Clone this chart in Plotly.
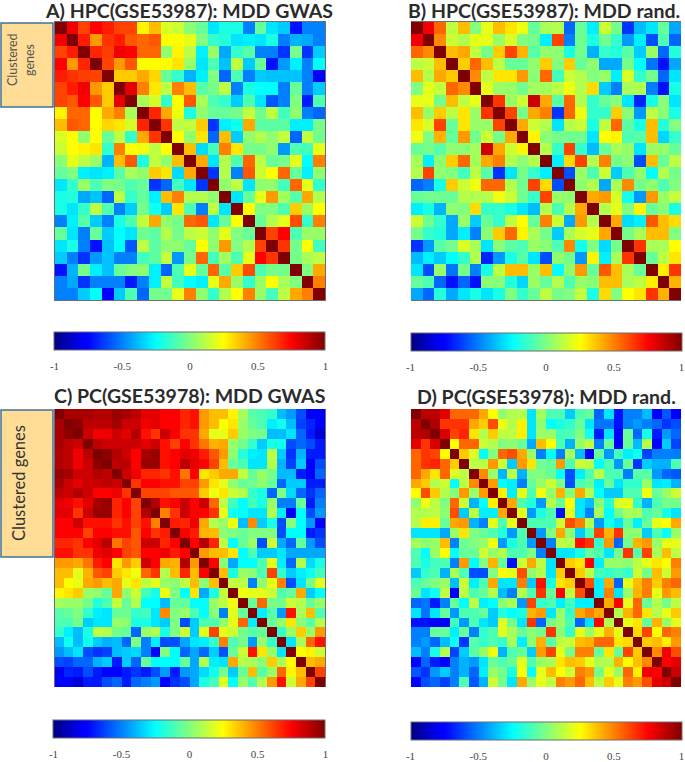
import numpy as np
import plotly.graph_objects as go

W, H = 685, 762

titles = ["A) HPC(GSE53987): MDD GWAS", "B) HPC(GSE53987): MDD rand.",
          "C) PC(GSE53978): MDD GWAS", "D) PC(GSE53978): MDD rand."]
bar_ticks = [-1, -0.5, 0, 0.5, 1]
bar_labels = ["-1", "-0.5", "0", "0.5", "1"]

# upper triangles, each row starts at the diagonal
upper_a = [
    [1,.78,.62,.75,.7,.62,.62,.27,.38,.18,.15,.02,-.05,-.3,-.2,-.2,-.5,-.05,-.3,-.35,-.72,-.5,-.5],
    [1,.7,.45,.65,.7,.58,.55,.58,.25,.25,.2,0,-.15,-.18,-.3,-.28,-.3,-.2,-.5,-.4,-.42,-.5],
    [1,.68,.63,.78,.75,.55,.55,.03,.27,.12,-.28,.05,-.42,-.15,-.08,-.5,-.5,-.65,-.02,-.65,-.35],
    [1,.62,.45,.58,.25,.25,.25,.3,.05,-.3,-.1,-.37,.12,-.35,-.05,-.72,-.45,-.28,-.5,-.25],
    [1,.35,.35,.42,.33,-.05,-.15,-.4,-.28,0,-.55,-.1,-.5,-.35,-.37,-.37,-.37,-.5,-.75],
    [1,.8,.5,.3,.12,.5,.38,-.08,-.02,.12,-.5,-.2,-.25,-.25,-.5,-.05,-.5,-.35],
    [1,.08,.17,-.15,.25,.58,.08,-.1,-.15,-.35,-.1,-.3,-.58,-.5,0,-.7,-.1],
    [1,.68,.42,.22,-.2,.03,-.05,-.05,-.02,.13,-.03,.12,-.12,.03,-.5,-.55],
    [1,.65,.12,.13,.35,-.65,-.28,-.22,.42,-.07,-.07,-.07,-.28,-.28,-.02],
    [1,.25,.03,.3,-.55,.38,-.35,.03,.1,.03,.13,-.55,.13,-.03],
    [1,.38,-.32,-.12,.5,.3,-.02,-.02,.03,-.45,-.1,-.12,.2],
    [1,.42,-.3,.1,-.1,.55,.12,-.05,-.02,.2,-.25,.5],
    [1,-.65,.1,-.5,.58,.15,.25,.55,-.05,-.28,.03],
    [1,.03,.12,-.3,.03,.03,-.12,.55,.2,-.15],
    [1,-.3,-.05,.2,.45,.07,-.08,.42,.1],
    [1,.25,0,0,-.1,.35,.05,.25],
    [1,-.05,.1,.2,.6,-.15,.5],
    [1,.62,.75,-.1,.05,.05],
    [1,.65,-.02,.25,-.12],
    [1,-.02,.08,.12],
    [1,0,.42],
    [1,.5],
    [1],
]

upper_b = [
    [1,.78,.55,.12,.38,0,.2,.38,.3,.22,-.05,.08,.1,-.55,-.05,-.28,.15,-.02,-.65,-.38,-.3,-.05,-.42],
    [1,.48,.15,.1,.2,.2,.05,.18,0,-.02,-.28,.62,-.5,-.03,-.2,-.03,-.15,-.45,-.28,-.6,-.1,-.55],
    [1,.38,.42,.13,-.02,.35,.62,.4,-.08,.03,.03,-.2,-.03,-.4,-.15,-.18,-.08,-.35,.05,-.55,-.18],
    [1,.35,.55,.38,.12,-.05,-.05,.03,.35,0,.35,-.05,.03,-.42,-.42,-.02,-.25,-.52,-.72,-.42],
    [1,.48,.12,.3,.3,.45,.02,.55,-.12,.15,.1,0,.05,-.28,.18,-.15,-.02,-.55,-.3],
    [1,.2,.05,.05,-.03,.07,.07,.12,.22,.1,.32,-.35,-.5,.08,.1,-.5,-.72,-.2],
    [1,.65,.05,.15,.85,.42,-.08,.55,.1,-.15,-.05,.02,-.3,-.68,-.2,.02,-.3],
    [1,.62,-.02,.42,.5,-.65,.55,.22,-.15,-.15,.35,.02,-.45,.12,.02,-.2],
    [1,.42,.15,.1,-.3,.1,.15,-.2,.12,.55,-.07,-.2,.38,-.18,0],
    [1,.27,.02,-.02,-.03,-.03,-.3,.25,.27,-.1,-.08,.38,-.33,-.15],
    [1,.1,-.15,.62,-.15,-.38,-.05,.08,.05,-.3,.05,.05,-.05],
    [1,-.28,.32,.62,.1,.5,-.02,.02,-.6,.38,-.05,.12],
    [1,-.6,.05,-.1,.15,-.35,-.1,.03,-.25,.1,-.02],
    [1,.03,.1,-.42,.08,.48,-.02,.03,-.1,0],
    [1,.42,.45,.17,-.22,-.45,.45,.05,.13],
    [1,.1,.2,0,.27,-.05,.02,-.2],
    [1,.42,-.32,-.28,.58,.38,.32],
    [1,-.02,.08,.38,.38,0],
    [1,.65,.08,.08,.25],
    [1,-.05,.12,.3],
    [1,.28,.65],
    [1,.4],
    [1],
]

upper_c = [
    [1,.92,.92,.92,.9,.9,.95,.92,.88,.8,.8,.75,.75,.68,.72,.45,.38,.38,.27,.07,-.08,-.1,-.15,-.38,-.45,-.6,-.8,-.78],
    [1,.97,.88,.88,.88,.93,.85,.85,.78,.8,.75,.75,.68,.72,.45,.38,.25,.3,.05,-.05,-.1,-.28,-.22,-.38,-.62,-.68,-.75],
    [1,.85,.78,.78,.85,.8,.9,.72,.65,.85,.75,.65,.65,.42,.2,.2,.35,.05,0,-.02,-.38,-.38,-.3,-.55,-.7,-.85],
    [1,.88,.85,.85,.85,.85,.8,.85,.72,.62,.75,.65,.52,.4,.42,.05,-.02,-.15,-.35,-.2,-.22,-.6,-.55,-.6,-.7],
    [1,.97,.9,.85,.75,.92,.95,.72,.75,.8,.78,.7,.58,.45,.03,-.18,-.28,-.3,.12,-.35,-.65,-.4,-.7,-.7],
    [1,.88,.88,.75,.95,.95,.72,.75,.88,.8,.75,.62,.38,-.05,-.1,-.3,-.3,.1,-.4,-.62,-.35,-.75,-.6],
    [1,.85,.78,.68,.68,.65,.72,.52,.75,.3,.35,.42,.42,.13,-.05,.05,-.02,-.38,-.38,-.7,-.75,-.55],
    [1,.65,.75,.75,.72,.72,.62,.62,.45,.3,.2,.03,-.05,-.03,.03,-.05,-.55,-.35,-.35,-.7,-.7],
    [1,.62,.62,.62,.58,.58,.58,.35,.22,.3,.15,.1,-.15,-.2,-.55,0,-.32,-.55,-.65,-.55],
    [1,.9,.72,.75,.85,.75,.85,.55,.12,-.12,-.25,-.12,-.2,.05,-.5,-.5,-.05,-.7,-.5],
    [1,.5,.65,.85,.75,.75,.65,.2,-.22,-.25,-.3,-.3,.1,-.28,-.75,-.25,-.6,-.45],
    [1,.7,.68,.78,.42,.1,.05,.22,-.38,.48,-.35,-.2,-.6,0,-.25,-.45,-.75],
    [1,.75,.7,.4,.38,.02,0,-.05,0,0,0,-.6,-.25,-.25,-.7,-.65],
    [1,.75,.9,.68,.12,-.25,-.05,.05,-.6,.15,-.42,-.55,-.05,-.45,-.6],
    [1,.45,.38,.38,.3,-.25,-.1,-.35,-.35,-.3,-.42,-.42,-.42,-.42],
    [1,.75,.02,-.42,-.25,-.25,-.1,.2,-.28,-.55,.1,-.32,-.2],
    [1,.38,-.2,.05,.02,-.1,.62,-.15,-.35,-.28,-.22,-.12],
    [1,.13,.12,-.5,.03,.2,.5,-.6,-.3,-.02,.2],
    [1,.22,.2,.2,.15,-.1,-.05,.42,-.35,-.25],
    [1,-.05,.55,-.02,-.02,.15,.1,-.05,.05],
    [1,-.28,-.08,-.45,.72,.08,.38,-.1],
    [1,-.05,.05,.3,.02,-.08,.1],
    [1,-.15,.05,.35,.05,.45],
    [1,-.3,.08,.55,.72],
    [1,.25,.27,.15],
    [1,.38,.42],
    [1,.62],
    [1],
]

upper_d = [
    [1,.88,.88,.8,.55,.55,.55,.42,.25,.03,.1,.1,-.3,.07,-.1,-.1,-.35,-.1,-.05,-.55,-.3,-.72,-.5,-.5,-.38,-.75,-.58,-.78],
    [1,.9,.65,.65,.65,.42,.35,.6,.22,.1,.28,-.3,.03,-.25,-.2,-.15,-.05,-.3,-.52,-.52,-.72,-.5,-.45,-.5,-.55,-.65,-.6],
    [1,.82,.62,.68,.3,.1,.35,.12,.12,.28,-.3,.05,.05,-.12,-.1,0,-.22,-.7,-.3,-.75,-.05,-.55,-.2,-.7,-.45,-.55],
    [1,.25,.55,.55,.15,.1,0,.03,-.05,-.42,.38,.25,-.1,-.4,.05,.12,-.5,-.05,-.75,-.05,-.38,.1,-.75,-.35,-.62],
    [1,.35,.18,-.25,0,.55,.6,.42,.05,-.5,-.25,-.5,.08,-.38,-.75,-.05,-.45,-.12,-.28,-.22,-.62,-.5,-.5,-.5],
    [1,.12,.12,.45,.15,-.35,.45,.3,-.03,-.05,.45,-.1,.15,.12,-.25,-.1,-.45,-.05,-.65,-.35,-.4,-.4,-.1],
    [1,.48,.05,-.4,.12,-.4,0,0,-.05,-.25,-.6,-.28,-.1,.12,-.1,-.1,-.5,-.08,-.08,-.45,-.55,-.58],
    [1,.45,-.25,-.28,-.5,-.05,.05,.15,0,-.6,-.1,-.05,-.28,-.05,-.3,-.15,-.15,.05,-.3,-.28,-.4],
    [1,.28,-.28,.2,-.1,.22,.05,.4,0,.42,.1,-.25,-.35,-.35,-.1,-.1,.22,-.05,.05,.15],
    [1,.42,-.1,-.18,-.45,.1,-.05,.25,-.3,-.38,.02,-.18,.18,.2,-.15,-.4,-.1,-.02,-.02],
    [1,.2,-.45,-.2,-.1,-.72,.2,-.3,-.5,.08,-.25,-.02,.08,.08,-.1,-.05,-.2,-.3],
    [1,-.1,-.1,-.1,.15,.6,.5,.1,-.45,-.2,-.3,-.05,-.28,-.05,.2,.25,.42],
    [1,-.45,0,.42,.03,-.35,-.1,.62,.4,.65,.02,.03,-.35,-.1,-.25,.05],
    [1,-.5,.12,.1,.72,.65,-.15,.45,-.55,-.02,.4,.45,.05,.2,.2],
    [1,-.3,-.3,-.2,-.05,-.1,-.3,-.02,.65,-.08,.62,.08,.38,.12],
    [1,.35,.3,.75,-.28,.05,.05,.02,.12,.2,.3,.25,.5],
    [1,.35,.12,-.12,-.15,-.1,-.15,.15,-.02,.38,.15,.45],
    [1,.6,-.28,.42,-.55,.2,.38,.5,.35,.5,.55],
    [1,-.28,.5,-.3,.05,.4,.5,.2,.45,.38],
    [1,.42,.75,.2,.55,-.05,.1,-.02,.12],
    [1,.1,.4,.55,.3,.1,.2,.35],
    [1,.2,.3,-.05,.4,.05,.2],
    [1,.32,.62,.25,.55,.5],
    [1,.35,.38,.28,.45],
    [1,.48,.78,.6],
    [1,.75,.8],
    [1,.85],
    [1],
]

jet = [[0, "#00007f"], [0.11, "#0000ff"], [0.125, "#0000ff"], [0.375, "#00ffff"],
       [0.625, "#ffff00"], [0.875, "#ff0000"], [1, "#7f0000"]]


def full_matrix(rows):
    n = len(rows)
    m = np.zeros((n, n))
    for i, r in enumerate(rows):
        m[i, i:] = r
        m[i:, i] = r
    return m


def px(x0, x1):
    return [x0 / W, x1 / W]


def py(y0, y1):
    return [1 - y1 / H, 1 - y0 / H]


# pixel boxes: heatmap x0,x1,y0,y1 then colourbar top
panels = [
    (upper_a, 55, 325, 22, 300, 332),
    (upper_b, 411, 681, 22, 300, 333),
    (upper_c, 54, 325, 409, 687, 720),
    (upper_d, 411, 681, 409, 687, 722),
]

fig = go.Figure()
for k, (rows, x0, x1, y0, y1, bar_top) in enumerate(panels):
    ax = "" if k == 0 else str(k + 1)
    fig.add_trace(go.Heatmap(
        z=full_matrix(rows), xaxis="x" + ax, yaxis="y" + ax,
        zmin=-1, zmax=1, colorscale=jet, hoverongaps=False,
        colorbar=dict(orientation="h", x=(x0 + x1) / 2 / W, xanchor="center",
                      y=1 - bar_top / H, yanchor="top", ypad=0, xpad=0,
                      lenmode="pixels", len=x1 - x0 + 1, thicknessmode="pixels", thickness=18,
                      outlinecolor="#6e6e6e", outlinewidth=1,
                      tickvals=bar_ticks, ticktext=bar_labels, ticks="outside", ticklen=7,
                      tickcolor="rgba(0,0,0,0)",
                      tickfont=dict(family="Liberation Serif", size=11, color="#444444")),
    ))
    axis = dict(showticklabels=False, ticks="", showgrid=False, zeroline=False,
                showline=True, mirror=True, linecolor="#6e6e6e", linewidth=1)
    fig.update_layout({"xaxis" + ax: dict(domain=px(x0, x1), **axis),
                       "yaxis" + ax: dict(domain=py(y0, y1), autorange="reversed", **axis)})

title_pos = [(189, 10), (544, 10), (189, 395), (546, 396)]
for text, (x, y) in zip(titles, title_pos):
    fig.add_annotation(text="<b>" + text + "</b>", x=x / W, y=1 - y / H, xref="paper", yref="paper",
                       showarrow=False, xanchor="center", yanchor="middle",
                       font=dict(family="Lato", size=19.5, color="#2b2b2b"))

# orange tags beside the clustered genes
for y0, y1 in [(23, 107), (410, 557)]:
    fig.add_shape(type="rect", xref="paper", yref="paper", x0=1 / W, x1=53 / W,
                  y0=1 - y1 / H, y1=1 - y0 / H, fillcolor="#FFDD96",
                  line=dict(color="#41719C", width=1.5))
for text, x in [("Clustered", 13), ("genes", 30)]:
    fig.add_annotation(text=text, x=x / W, y=1 - 60 / H, xref="paper", yref="paper",
                       showarrow=False, xanchor="center", yanchor="middle", textangle=-90,
                       font=dict(family="Lato", size=12.5, color="#555555"))
fig.add_annotation(text="Clustered genes", x=19 / W, y=1 - 483 / H, xref="paper", yref="paper",
                   showarrow=False, xanchor="center", yanchor="middle", textangle=-90,
                   font=dict(family="Lato", size=16.5, color="#333333"))

fig.update_layout(width=W, height=H, margin=dict(l=0, r=0, t=0, b=0, autoexpand=False),
                  paper_bgcolor="white", plot_bgcolor="white", showlegend=False)
# the page's default body margin would push everything 8px right and down
fig.write_html("out.html", config={"displayModeBar": False},
               post_script="document.body.style.margin='0';")
